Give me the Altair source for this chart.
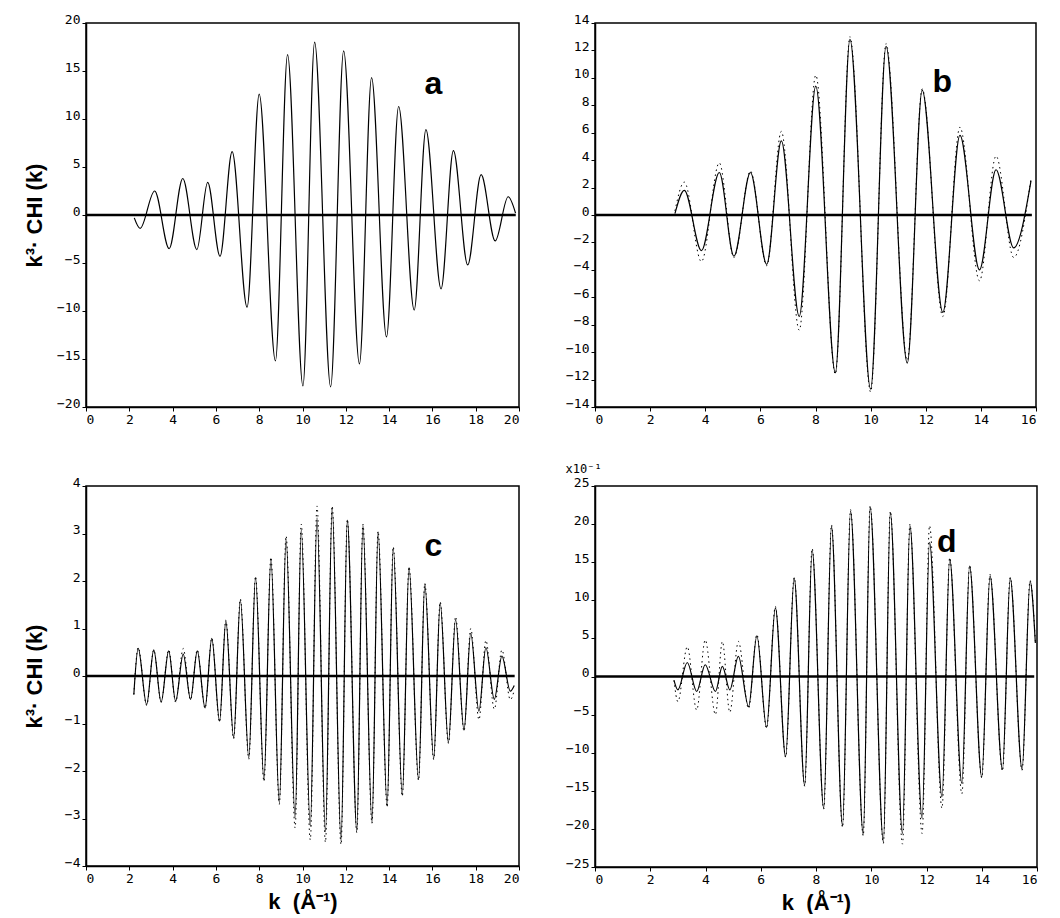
import altair as alt
import pandas as pd

# ---------------- panel a ----------------
a_k = [2.23, 2.5, 3.17, 3.84, 4.47, 5.12, 5.62, 6.19, 6.75, 7.44, 8.0, 8.75, 9.31, 10.02,
       10.56, 11.3, 11.9, 12.63, 13.19, 13.88, 14.44, 15.16, 15.7, 16.4, 16.97, 17.63,
       18.25, 18.9, 19.5, 19.84]
a_y = [-0.3, -1.4, 2.5, -3.5, 3.8, -3.6, 3.4, -4.3, 6.6, -9.6, 12.6, -15.2, 16.7, -17.8,
       18.0, -17.9, 17.1, -15.5, 14.3, -12.7, 11.3, -9.9, 8.9, -7.7, 6.7, -5.2,
       4.2, -2.7, 1.9, 0.2]

# ---------------- panel b ----------------
b_k = [2.9, 3.24, 3.86, 4.51, 5.04, 5.64, 6.23, 6.76, 7.41, 8.01, 8.72, 9.25, 10.0,
       10.56, 11.33, 11.87, 12.62, 13.24, 13.95, 14.55, 15.19, 15.82]
b_y = [0.1, 1.8, -2.6, 3.1, -3.0, 3.1, -3.6, 5.4, -7.4, 9.4, -11.5, 12.8, -12.7,
       12.3, -10.8, 9.1, -7.1, 5.8, -4.0, 3.3, -2.4, 2.5]
b_y_exp = [0.3, 2.4, -3.4, 3.8, -3.1, 3.2, -3.7, 6.1, -8.4, 10.2, -11.6, 13.0, -12.9,
           12.5, -10.6, 9.2, -7.4, 6.4, -4.8, 4.3, -3.1, 2.7]

# ---------------- panel c ----------------
c_k = [2.21, 2.41, 2.8, 3.13, 3.47, 3.82, 4.14, 4.49, 4.83, 5.14, 5.5, 5.81, 6.17, 6.46,
       6.82, 7.13, 7.52, 7.83, 8.22, 8.54, 8.93, 9.24, 9.66, 9.94, 10.36, 10.67, 11.06,
       11.37, 11.78, 12.07, 12.51, 12.79, 13.21, 13.49, 13.91, 14.19, 14.61, 14.92,
       15.36, 15.65, 16.06, 16.36, 16.74, 17.07, 17.46, 17.77, 18.15, 18.47, 18.86,
       19.21, 19.6, 19.78]
c_y = [-0.39, 0.58, -0.6, 0.55, -0.55, 0.53, -0.53, 0.46, -0.49, 0.53, -0.67, 0.79, -0.95,
       1.16, -1.3, 1.6, -1.72, 2.07, -2.19, 2.46, -2.67, 2.88, -2.98, 3.07, -3.16, 3.33,
       -3.28, 3.54, -3.47, 3.28, -3.26, 3.17, -3.09, 3.03, -2.74, 2.7, -2.51, 2.28,
       -2.18, 1.93, -1.74, 1.54, -1.4, 1.19, -1.14, 0.9, -0.74, 0.6, -0.49,
       0.42, -0.32, -0.2]
c_y_exp = [-0.39, 0.6, -0.62, 0.55, -0.55, 0.55, -0.55, 0.58, -0.5, 0.55, -0.68, 0.8, -0.97,
           1.18, -1.32, 1.62, -1.75, 2.1, -2.22, 2.5, -2.7, 2.95, -3.2, 3.2, -3.45, 3.58,
           -3.5, 3.58, -3.55, 3.3, -3.3, 3.2, -3.1, 3.05, -2.76, 2.72, -2.53, 2.3,
           -2.2, 1.95, -1.76, 1.56, -1.42, 1.25, -1.16, 1.0, -0.92, 0.75, -0.7,
           0.55, -0.5, -0.3]

# ---------------- panel d (x10^-1) ----------------
d_k = [2.86, 3.0, 3.34, 3.68, 3.99, 4.36, 4.61, 4.88, 5.19, 5.56, 5.86, 6.21, 6.53, 6.9,
       7.21, 7.59, 7.86, 8.28, 8.56, 8.96, 9.25, 9.71, 9.96, 10.44, 10.69, 11.13, 11.4,
       11.84, 12.11, 12.56, 12.84, 13.28, 13.56, 14.0, 14.3, 14.75, 15.03, 15.46,
       15.75, 15.94]
d_y = [-0.5, -1.75, 1.84, -1.97, 1.54, -1.97, 1.32, -1.75, 2.63, -3.95, 5.35, -6.67,
       9.0, -10.5, 12.9, -14.3, 16.6, -17.3, 19.7, -19.6, 21.7, -20.7, 22.2, -21.7,
       21.5, -20.6, 19.8, -18.6, 17.6, -15.8, 15.4, -14.0, 14.5, -13.2, 13.2, -12.2,
       12.9, -12.2, 12.5, 4.4]
d_y_exp = [-0.5, -3.3, 3.9, -4.4, 4.8, -5.0, 4.6, -4.7, 4.6, -4.2, 5.5, -6.8,
           9.2, -10.6, 13.0, -14.4, 16.8, -17.4, 19.9, -19.8, 21.9, -20.9, 22.4, -21.9,
           21.7, -22.0, 20.0, -20.6, 19.8, -17.3, 15.6, -15.4, 14.6, -13.3, 13.4, -12.4,
           13.0, -12.3, 12.6, 4.6]

LABEL_FONT = "DejaVu Sans Mono"
TITLE_FONT = "Liberation Sans"
Y_TITLE = "k³· CHI (k)"
X_TITLE = "k\u00a0\u00a0(Å⁻¹)"


def panel(k, y, y_exp, xmax, zero_end, ydom, xvals, yvals, letter, lk, ly, w, h,
          ytitle=None, xtitle=None, d_title=False):
    if ytitle:
        yaxis = alt.Axis(values=yvals, format="d", title=ytitle, titleFont=TITLE_FONT,
                         titleFontSize=22, titleFontWeight="bold", titleAngle=270,
                         titleX=-52, titleY=h / 2, titleAlign="center",
                         titleBaseline="middle")
    elif d_title:
        yaxis = alt.Axis(values=yvals, format="d", title="x10⁻¹", titleFont=LABEL_FONT,
                         titleFontSize=12, titleFontWeight="normal", titleAngle=0,
                         titleX=-30, titleY=-18, titleAlign="left",
                         titleBaseline="middle")
    else:
        yaxis = alt.Axis(values=yvals, format="d", title=None)
    if xtitle:
        xaxis = alt.Axis(values=xvals, format="d", title=xtitle, titleFont=TITLE_FONT,
                         titleFontSize=22, titleFontWeight="bold", titleX=w / 2,
                         titleY=35, titleAlign="center", titleBaseline="middle")
    else:
        xaxis = alt.Axis(values=xvals, format="d", title=None)

    xs = alt.Scale(domain=[0, xmax], nice=False, zero=False)
    ys = alt.Scale(domain=ydom, nice=False, zero=False)

    df = pd.DataFrame({"k": k, "v": y})
    base_x = alt.X("k:Q", scale=xs, axis=xaxis)
    base_y = alt.Y("v:Q", scale=ys, axis=yaxis)

    layers = []
    zero = alt.Chart(pd.DataFrame({"k": [0], "k2": [zero_end], "v": [0]})).mark_rule(
        color="black", strokeWidth=2.5
    ).encode(x=base_x, x2="k2:Q", y=base_y)
    layers.append(zero)
    if y_exp is not None:
        dfe = pd.DataFrame({"k": k, "v": y_exp})
        layers.append(
            alt.Chart(dfe).mark_line(interpolate="monotone", color="black",
                                     strokeWidth=1, strokeDash=[1.5, 3.5])
            .encode(x=base_x, y=base_y)
        )
    layers.append(
        alt.Chart(df).mark_line(interpolate="monotone", color="black", strokeWidth=1.2)
        .encode(x=base_x, y=base_y)
    )
    layers.append(
        alt.Chart(pd.DataFrame({"k": [lk], "v": [ly], "t": [letter]}))
        .mark_text(font=TITLE_FONT, fontSize=32, fontWeight="bold", color="black")
        .encode(x=base_x, y=base_y, text="t:N")
    )
    return alt.layer(*layers).properties(width=w, height=h)


x20 = list(range(0, 21, 2))
x16 = list(range(0, 17, 2))

pa = panel(a_k, a_y, None, 20, 19.85, [-20, 20], x20, list(range(-20, 21, 5)),
           "a", 16.05, 13.6, 433, 384, ytitle=Y_TITLE)
pb = panel(b_k, b_y, b_y_exp, 16, 15.85, [-14, 14], x16, list(range(-14, 15, 2)),
           "b", 12.6, 9.7, 441, 384)
pc = panel(c_k, c_y, c_y_exp, 20, 19.8, [-4, 4], x20, list(range(-4, 5, 1)),
           "c", 16.05, 2.74, 433, 380, ytitle=Y_TITLE, xtitle=X_TITLE)
pd_ = panel(d_k, d_y, d_y_exp, 16, 15.9, [-25, 25], x16, list(range(-25, 26, 5)),
            "d", 12.73, 17.65, 442, 381, xtitle=X_TITLE, d_title=True)

left_col = alt.vconcat(pa, pc, spacing=48)
right_col = alt.vconcat(pb, pd_, spacing=34)

chart = alt.hconcat(left_col, right_col, spacing=43).properties(
    padding={"left": 22, "top": 12, "right": 0, "bottom": 0},
    background="white",
).configure_view(
    stroke="black", strokeWidth=1.5
).configure_axis(
    grid=False,
    domainColor="black",
    domainWidth=1.5,
    tickColor="black",
    tickSize=4,
    labelColor="black",
    titleColor="black",
    labelFont=LABEL_FONT,
    labelFontSize=13,
    labelPadding=2,
).configure_axisY(
    labelBaseline="alphabetic",
)

chart.save("out.html", embed_options={"renderer": "svg", "actions": False})
